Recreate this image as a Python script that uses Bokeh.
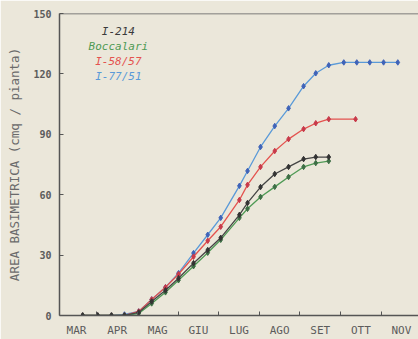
from bokeh.plotting import figure
from bokeh.models import Range1d, FixedTicker, Label, Span
from bokeh.embed import file_html
from bokeh.resources import INLINE

# x = months after 1 March (0 = 1 Mar, 1 = 1 Apr, ...)
month_labels = ["MAR", "APR", "MAG", "GIU", "LUG", "AGO", "SET", "OTT", "NOV"]

x_i214 = [0.65, 1.02, 1.36, 1.68, 2.03, 2.35, 2.69, 3.01, 3.38, 3.73, 4.05, 4.51, 4.71, 5.03, 5.38, 5.72, 6.09, 6.39, 6.71]
y_i214 = [0, 0, 0, 0, 1.5, 7, 12.5, 18.5, 26, 32.5, 38.6, 50, 55.9, 63.8, 70.3, 73.8, 77.7, 78.7, 78.7]

x_bocc = [0.65, 1.02, 1.36, 1.68, 2.03, 2.35, 2.69, 3.01, 3.38, 3.73, 4.05, 4.51, 4.71, 5.03, 5.38, 5.72, 6.09, 6.39, 6.71]
y_bocc = [0, 0, 0, 0, 1, 6, 11.5, 17.5, 24.5, 31.2, 37.6, 48.5, 53, 58.9, 63.9, 68.8, 73.8, 75.7, 76.7]

x_i5857 = [0.65, 1.02, 1.36, 1.68, 2.03, 2.35, 2.69, 3.01, 3.38, 3.73, 4.05, 4.51, 4.71, 5.03, 5.38, 5.72, 6.09, 6.39, 6.71, 7.37]
y_i5857 = [0, 0, 0, 0, 2, 8, 14, 20.5, 29.2, 37.1, 44.1, 57.4, 64.9, 73.8, 81.7, 87.6, 92.6, 95.5, 97.5, 97.5]

x_i7751 = [0.65, 1.02, 1.36, 1.68, 2.03, 2.35, 2.69, 3.01, 3.38, 3.73, 4.05, 4.51, 4.71, 5.03, 5.38, 5.72, 6.09, 6.39, 6.71, 7.08, 7.40, 7.72, 8.06, 8.41]
y_i7751 = [0, 0, 0, 0.5, 2, 8, 14, 21, 31, 40.1, 48.5, 64.4, 71.8, 83.7, 94.1, 102.9, 113.9, 120.3, 124.3, 125.7, 125.7, 125.7, 125.7, 125.7]

series = [
    ("I-77/51", x_i7751, y_i7751, "#5a9ad8", "#3f63b8"),
    ("I-58/57", x_i5857, y_i5857, "#e4534f", "#c83a4a"),
    ("Boccalari", x_bocc, y_bocc, "#4f9a55", "#3d6e45"),
    ("I-214", x_i214, y_i214, "#454545", "#333333"),
]

BG = "#ebe7da"
TXT = "#5c5c5c"
MONO = "DejaVu Sans Mono"

p = figure(width=418, height=339, output_backend="svg", toolbar_location=None,
           x_range=Range1d(0.08, 8.92), y_range=Range1d(0, 150),
           min_border_left=59, min_border_right=0, min_border_top=13, min_border_bottom=23)
p.background_fill_color = BG
p.border_fill_color = BG
p.outline_line_color = None
p.xgrid.visible = False
p.ygrid.visible = False

for name, xs, ys, lc, mc in series:
    p.line(xs, ys, line_color=lc, line_width=1.3)
    p.scatter(xs, ys, marker="diamond", size=5.5, fill_color=mc, line_color=mc)

# top frame line
p.add_layout(Span(location=150, dimension="width", line_color="#555555", line_width=1.5))

# x axis
xa = p.xaxis[0]
xa.ticker = FixedTicker(ticks=[i + 0.5 for i in range(len(month_labels))],
                        minor_ticks=list(range(1, len(month_labels))))
xa.major_label_overrides = {i + 0.5: lab for i, lab in enumerate(month_labels)}
xa.major_tick_in = 0
xa.major_tick_out = 0
xa.minor_tick_in = 4
xa.minor_tick_out = 0
xa.minor_tick_line_color = "#555555"
xa.axis_line_color = "#555555"
xa.axis_line_width = 1.5
xa.major_label_text_font = MONO
xa.major_label_text_font_size = "11px"
xa.major_label_text_color = TXT
xa.major_label_standoff = 8

# y axis
ya = p.yaxis[0]
ya.ticker = FixedTicker(ticks=[0, 30, 60, 90, 120, 150])
ya.minor_tick_in = 0
ya.minor_tick_out = 0
ya.major_tick_in = 4
ya.major_tick_out = 0
ya.major_tick_line_color = "#555555"
ya.axis_line_color = "#555555"
ya.axis_line_width = 1.5
ya.major_label_text_font = MONO
ya.major_label_text_font_size = "10px"
ya.major_label_text_font_style = "bold"
ya.major_label_text_color = TXT
ya.major_label_standoff = 8
ya.axis_label = "AREA BASIMETRICA (cmq / pianta)"
ya.axis_label_text_font = MONO
ya.axis_label_text_font_size = "12.5px"
ya.axis_label_text_font_style = "normal"
ya.axis_label_text_color = "#6a6a6a"
ya.axis_label_standoff = 8

# legend as coloured texts
legend_items = [("I-214", 141, "#3a3a3a"), ("Boccalari", 133.7, "#4f9a55"),
                ("I-58/57", 126.2, "#e4534f"), ("I-77/51", 118.8, "#5a9ad8")]
for txt, yy, col in legend_items:
    p.add_layout(Label(x=1.53, y=yy, text=txt, text_align="center", text_baseline="middle",
                       text_font=MONO, text_font_size="11px", text_font_style="italic",
                       text_color=col))

open("out.html", "w").write(file_html(p, INLINE))
